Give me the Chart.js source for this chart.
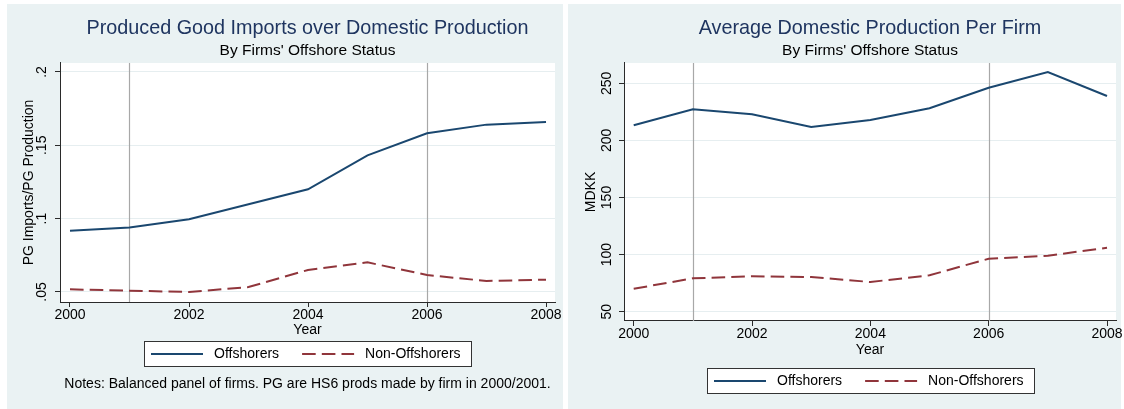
<!DOCTYPE html>
<html>
<head>
<meta charset="utf-8">
<script src="https://cdn.jsdelivr.net/npm/chart.js@4.4.1/dist/chart.umd.min.js"></script>
<style>
  html, body { margin: 0; padding: 0; background: #fff; width: 1124px; height: 409px; overflow: hidden; }
  .panel { position: absolute; top: 4px; height: 405px; background: #eaf2f3; }
  canvas { position: absolute; top: 4px; }
</style>
</head>
<body>
<div class="panel" style="left:7px;width:556px"></div>
<div class="panel" style="left:568px;width:553px"></div>
<canvas id="importsChart" width="556" height="405" style="left:7px"></canvas>
<canvas id="productionChart" width="556" height="405" style="left:568px"></canvas>
<script>
// ---- data ----
const years = [2000, 2001, 2002, 2003, 2004, 2005, 2006, 2007, 2008];
const seriesNames = ['Offshorers', 'Non-Offshorers'];

// produced-good imports / domestic production
const importShareOffshorers    = [0.0918, 0.0939, 0.0996, 0.1098, 0.1200, 0.1432, 0.1582, 0.1641, 0.1659];
const importShareNonOffshorers = [0.0518, 0.0509, 0.0500, 0.0534, 0.0650, 0.0702, 0.0616, 0.0575, 0.0584];

// average domestic production per firm (MDKK)
const productionOffshorers    = [213.2, 227.2, 222.9, 211.7, 217.9, 228.1, 246.1, 259.9, 238.9];
const productionNonOffshorers = [70.1, 79.2, 81.0, 80.4, 76.0, 81.9, 96.4, 99.0, 106.0];

const yearTicks = [2000, 2002, 2004, 2006, 2008];
const shareTicks = [0.05, 0.1, 0.15, 0.2];
const shareTickLabels = ['.05', '.1', '.15', '.2'];
const productionTicks = [50, 100, 150, 200, 250];
const productionTickLabels = ['50', '100', '150', '200', '250'];
const markerYears = [2001, 2006];

// ---- style ----
const FONT = '"Liberation Sans", Arial, Helvetica, sans-serif';
Chart.defaults.font.family = FONT;
Chart.defaults.color = '#000';
const NAVY = '#1a476f';
const MAROON = '#90353b';
const AXIS = '#2a2a2a';

// white plot region, vertical reference lines, boxed legend and footnote
const panelDecor = {
  id: 'panelDecor',
  beforeDraw(chart) {
    const { ctx, chartArea: a } = chart;
    ctx.save();
    ctx.fillStyle = '#ffffff';
    ctx.fillRect(a.left, a.top, a.right - a.left, a.bottom - a.top);
    ctx.restore();
  },
  beforeDatasetsDraw(chart, args, opts) {
    const { ctx, chartArea: a } = chart;
    const xs = chart.scales.x;
    ctx.save();
    ctx.strokeStyle = '#a8a8a8';
    ctx.lineWidth = 1.2;
    (opts.markers || []).forEach(v => {
      const px = Math.round(xs.getPixelForValue(v)) + 0.5;
      ctx.beginPath();
      ctx.moveTo(px, a.top);
      ctx.lineTo(px, a.bottom);
      ctx.stroke();
    });
    ctx.restore();
  },
  afterDraw(chart, args, opts) {
    const { ctx, chartArea: a } = chart;
    const cx = (a.left + a.right) / 2;
    ctx.save();
    ctx.font = '14px ' + FONT;
    const sample = 52, gapText = 11, gapItem = 23, padL = 7, padR = 10, h = 25;
    const items = chart.data.datasets.map(ds => ({ ds, w: ctx.measureText(ds.label).width }));
    const total = padL + padR + items.reduce((s, it) => s + sample + gapText + it.w, 0) + gapItem * (items.length - 1);
    const left = Math.round(cx - total / 2);
    const top = Math.round(opts.legendTop);
    ctx.fillStyle = '#fff';
    ctx.fillRect(left, top, Math.round(total), h);
    ctx.strokeStyle = '#333';
    ctx.lineWidth = 1;
    ctx.strokeRect(left + 0.5, top + 0.5, Math.round(total), h);
    let x = left + padL;
    const cy = top + h / 2 + 0.5;
    items.forEach(it => {
      ctx.save();
      ctx.strokeStyle = it.ds.borderColor;
      ctx.lineWidth = it.ds.borderWidth;
      ctx.setLineDash(it.ds.borderDash || []);
      ctx.beginPath();
      ctx.moveTo(x, cy);
      ctx.lineTo(x + sample, cy);
      ctx.stroke();
      ctx.restore();
      x += sample + gapText;
      ctx.fillStyle = '#000';
      ctx.textAlign = 'left';
      ctx.textBaseline = 'middle';
      ctx.fillText(it.ds.label, x, cy);
      x += it.w + gapItem;
    });
    if (opts.note) {
      ctx.textAlign = 'center';
      ctx.textBaseline = 'middle';
      ctx.fillStyle = '#000';
      ctx.fillText(opts.note, cx, opts.noteY);
    }
    ctx.restore();
  }
};

function makeChart(canvasId, cfg) {
  return new Chart(document.getElementById(canvasId), {
    type: 'line',
    data: {
      datasets: [
        {
          label: seriesNames[0],
          data: years.map((y, i) => ({ x: y, y: cfg.offshorers[i] })),
          borderColor: NAVY, borderWidth: 2, pointRadius: 0, tension: 0, fill: false
        },
        {
          label: seriesNames[1],
          data: years.map((y, i) => ({ x: y, y: cfg.nonOffshorers[i] })),
          borderColor: MAROON, borderWidth: 2, borderDash: [13.6, 6.1], pointRadius: 0, tension: 0, fill: false
        }
      ]
    },
    options: {
      responsive: false,
      animation: false,
      devicePixelRatio: 1,
      events: [],
      layout: { padding: { left: 0, right: 8, top: 0, bottom: cfg.bottomPad } },
      plugins: {
        legend: { display: false },
        tooltip: { enabled: false },
        title: {
          display: true, text: cfg.title, fullSize: false, color: '#1f3560',
          font: { size: 19.8, weight: 'normal', lineHeight: 1.2 },
          padding: { top: 12.4, bottom: 0 }
        },
        subtitle: {
          display: true, text: 'By Firms\' Offshore Status', fullSize: false, color: '#000',
          font: { size: 15.5, weight: 'normal', lineHeight: 1.2 },
          padding: { top: 1.2, bottom: 3 }
        },
        panelDecor: { markers: markerYears, legendTop: cfg.legendTop, note: cfg.note, noteY: cfg.noteY }
      },
      scales: {
        x: {
          type: 'linear',
          min: cfg.xMin, max: cfg.xMax,
          afterBuildTicks: s => { s.ticks = yearTicks.map(v => ({ value: v })); },
          ticks: {
            autoSkip: false, maxRotation: 0, minRotation: 0, padding: 1, color: '#000',
            font: { size: 14, lineHeight: 1 },
            callback: v => String(v)
          },
          grid: { display: true, drawOnChartArea: false, drawTicks: true, tickLength: 5, tickColor: AXIS, tickWidth: 1 },
          border: { display: true, color: AXIS, width: 1 },
          title: { display: true, text: 'Year', color: '#000', font: { size: 14, lineHeight: 1 }, padding: { top: cfg.yearPad, bottom: 0 } }
        },
        y: {
          type: 'linear',
          min: cfg.yMin, max: cfg.yMax,
          afterBuildTicks: s => { s.ticks = cfg.yTicks.map(v => ({ value: v })); },
          afterFit: s => { s.width = cfg.yWidth; },
          ticks: {
            autoSkip: false, minRotation: 90, maxRotation: 90, crossAlign: 'center',
            padding: cfg.yTickPad, color: '#000',
            font: { size: 14, lineHeight: 1.2 },
            callback: v => cfg.yTickLabels[cfg.yTicks.indexOf(v)]
          },
          grid: { color: '#e6eef0', lineWidth: 1, drawTicks: true, tickLength: 5, tickColor: AXIS, tickWidth: 1 },
          border: { display: true, color: AXIS, width: 1 },
          title: { display: true, text: cfg.yTitle, color: '#000', font: { size: 14, lineHeight: 1.2 }, padding: { top: cfg.yTitlePad, bottom: 0 } }
        }
      }
    },
    plugins: [panelDecor]
  });
}

makeChart('importsChart', {
  title: 'Produced Good Imports over Domestic Production',
  yTitle: 'PG Imports/PG Production',
  offshorers: importShareOffshorers,
  nonOffshorers: importShareNonOffshorers,
  yTicks: shareTicks, yTickLabels: shareTickLabels,
  yMin: 0.04318, yMax: 0.20614,
  xMin: 1999.832, xMax: 2008.151,
  yWidth: 53, yTickPad: 3, yTitlePad: 14.2,
  yearPad: 0, bottomPad: 72,
  legendTop: 337.2,
  note: 'Notes: Balanced panel of firms. PG are HS6 prods made by firm in 2000/2001.',
  noteY: 380
});

makeChart('productionChart', {
  title: 'Average Domestic Production Per Firm',
  yTitle: 'MDKK',
  offshorers: productionOffshorers,
  nonOffshorers: productionNonOffshorers,
  yTicks: productionTicks, yTickLabels: productionTickLabels,
  yMin: 41.86, yMax: 267.8,
  xMin: 1999.836, xMax: 2008.152,
  yWidth: 56, yTickPad: 0.6, yTitlePad: 15.2,
  yearPad: 1.5, bottomPad: 51.5,
  legendTop: 363.5,
  note: '',
  noteY: 0
});
</script>
</body>
</html>
